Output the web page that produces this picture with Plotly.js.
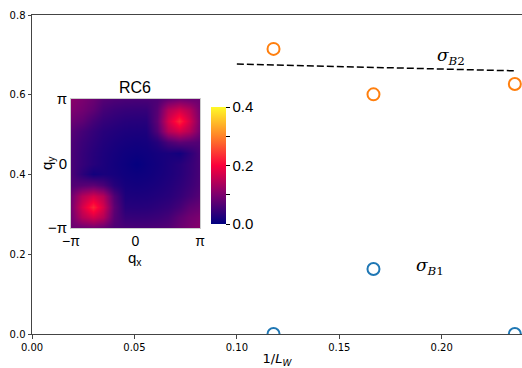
<!DOCTYPE html>
<html><head><meta charset="utf-8">
<script src="https://cdn.plot.ly/plotly-3.0.1.min.js"></script>
<style>html,body{margin:0;padding:0;background:#fff}#plot{width:522px;height:368px}</style>
</head><body><div id="plot"></div>
<script>
// main chart data
const invL = [0.1179, 0.1667, 0.2357];
const sigmaB1 = [0.0, 0.163, 0.0];
const sigmaB2 = [0.715, 0.601, 0.627];
const fitX = [0.10, 0.2357];
const fitY = [0.677, 0.660];
const xTicks = [0, 0.05, 0.10, 0.15, 0.20];
const yTicks = [0, 0.2, 0.4, 0.6, 0.8];
// inset heatmap data (RC6), qy rows from -pi to pi
const qx = [-3.1416,-2.618,-2.0944,-1.5708,-1.0472,-0.5236,0,0.5236,1.0472,1.5708,2.0944,2.618,3.1416];
const qy = [-3.1416,-2.618,-2.0944,-1.5708,-1.0472,-0.5236,0,0.5236,1.0472,1.5708,2.0944,2.618,3.1416];
const rc6 = [
 [0.085,0.085,0.090,0.080,0.062,0.059,0.058,0.059,0.062,0.068,0.085,0.098,0.110],
 [0.090,0.145,0.170,0.145,0.070,0.043,0.042,0.043,0.047,0.055,0.075,0.090,0.100],
 [0.095,0.170,0.230,0.170,0.075,0.031,0.030,0.031,0.036,0.042,0.055,0.075,0.085],
 [0.090,0.145,0.170,0.145,0.065,0.023,0.022,0.023,0.027,0.032,0.042,0.055,0.070],
 [0.065,0.070,0.075,0.060,0.030,0.017,0.015,0.017,0.021,0.027,0.036,0.047,0.062],
 [0.059,0.035,0.015,0.020,0.017,0.012,0.010,0.012,0.017,0.023,0.031,0.043,0.059],
 [0.058,0.042,0.030,0.022,0.015,0.010,0.004,0.010,0.015,0.022,0.030,0.042,0.058],
 [0.059,0.043,0.031,0.023,0.017,0.012,0.010,0.012,0.017,0.020,0.015,0.035,0.059],
 [0.062,0.047,0.036,0.027,0.021,0.017,0.015,0.017,0.030,0.060,0.075,0.070,0.065],
 [0.070,0.055,0.042,0.032,0.027,0.023,0.022,0.023,0.065,0.145,0.170,0.145,0.090],
 [0.085,0.075,0.055,0.042,0.036,0.031,0.030,0.031,0.075,0.170,0.230,0.170,0.095],
 [0.100,0.090,0.075,0.055,0.047,0.043,0.042,0.043,0.070,0.145,0.170,0.145,0.090],
 [0.110,0.098,0.085,0.068,0.062,0.059,0.058,0.059,0.062,0.080,0.090,0.085,0.085]
];
const qTicks = [-3.1416, 0, 3.1416];
const qTickText = ['\u2212\u03c0', '0', '\u03c0'];
const cbTicks = [0, 0.1, 0.2, 0.3, 0.4];
const cbTickText = ['0.0', '', '0.2', '', '0.4'];

const insetFont = {family: 'Liberation Sans, Arial', size: 15, color: '#000'};
const insetTickFont = {family: 'Liberation Sans, Arial', size: 14, color: '#000'};
const traces = [
  {x: invL, y: sigmaB1, type: 'scatter', mode: 'markers', xaxis: 'x', yaxis: 'y',
   marker: {symbol: 'circle-open', size: 12, color: '#1f77b4', line: {width: 2, color: '#1f77b4'}}},
  {x: invL, y: sigmaB2, type: 'scatter', mode: 'markers', xaxis: 'x', yaxis: 'y',
   marker: {symbol: 'circle-open', size: 12, color: '#ff7f0e', line: {width: 2, color: '#ff7f0e'}}},
  {x: fitX, y: fitY, type: 'scatter', mode: 'lines', xaxis: 'x', yaxis: 'y',
   line: {color: '#000', width: 1.5, dash: '7px,3px'}},
  {x: qx, y: qy, z: rc6, type: 'heatmap', xaxis: 'x2', yaxis: 'y2', zsmooth: 'best',
   zmin: 0, zmax: 0.4,
   colorscale: [[0,'rgb(0,0,128)'],[0.25,'rgb(125,0,110)'],[0.5,'rgb(250,0,60)'],[0.75,'rgb(255,130,40)'],[1,'rgb(255,250,40)']],
   colorbar: {x: 0.3653, xanchor: 'left', xpad: 0, ypad: 0, y: 0.528, yanchor: 'middle', len: 117, lenmode: 'pixels',
     thickness: 15, outlinewidth: 0, ticks: 'outside', ticklen: 4, tickcolor: '#000',
     tickvals: cbTicks, ticktext: cbTickText, tickfont: insetFont}}
];

const mainFont = {family: 'DejaVu Sans', size: 10, color: '#000'};
const layout = {
  width: 522, height: 368,
  margin: {l: 32, r: 0, t: 15, b: 34},
  paper_bgcolor: '#fff', plot_bgcolor: '#fff',
  showlegend: false,
  xaxis: {range: [0, 0.2392], tickvals: xTicks, tickformat: '.2f', showgrid: false, zeroline: false,
    showline: true, linecolor: '#444', linewidth: 1, mirror: true, ticks: 'outside', ticklen: 3.5,
    tickcolor: '#444', tickfont: mainFont, domain: [0, 1],
    title: {text: '1/<i>L</i><sub><i>W</i></sub>', font: {family: 'DejaVu Sans', size: 13, color: '#000'}, standoff: 6}},
  yaxis: {range: [0, 0.8], tickvals: yTicks, tickformat: '.1f', showgrid: false, zeroline: false,
    showline: true, linecolor: '#444', linewidth: 1, ticks: 'outside', ticklen: 3.5,
    tickcolor: '#444', tickfont: mainFont, domain: [0, 1]},
  xaxis2: {domain: [0.0796, 0.3429], anchor: 'y2', range: [-3.1416, 3.1416], tickvals: qTicks, ticktext: qTickText,
    showgrid: false, zeroline: false, showline: true, linecolor: '#ccc', linewidth: 1, mirror: true, ticks: '',
    tickfont: insetTickFont},
  yaxis2: {domain: [0.3323, 0.7367], anchor: 'x2', range: [-3.1416, 3.1416], tickvals: qTicks, ticktext: qTickText,
    showgrid: false, zeroline: false, showline: true, linecolor: '#ccc', linewidth: 1, mirror: true, ticks: '',
    tickfont: insetFont},
  annotations: [
    {text: 'RC6', x: 0.2112, y: 0.7367, xref: 'paper', yref: 'paper', xanchor: 'center', yanchor: 'bottom',
     yshift: 1, showarrow: false, font: {family: 'Liberation Sans, Arial', size: 16, color: '#000'}},
    {text: 'q<sub>x</sub>', x: 0.2112, y: 0.2382, xref: 'paper', yref: 'paper', xanchor: 'center', yanchor: 'middle',
     borderpad: 0, showarrow: false, font: insetFont},
    {text: 'q<sub>y</sub>', x: 0.0306, y: 0.5360, xref: 'paper', yref: 'paper', xanchor: 'center', yanchor: 'middle',
     borderpad: 0, textangle: -90, showarrow: false, font: insetFont},
    {text: '<i>\u03c3</i><sub><i>B</i>2</sub>', x: 0.2044, y: 0.696, xref: 'x', yref: 'y', showarrow: false,
     font: {family: 'DejaVu Serif', size: 17, color: '#000'}},
    {text: '<i>\u03c3</i><sub><i>B</i>1</sub>', x: 0.1943, y: 0.169, xref: 'x', yref: 'y', showarrow: false,
     font: {family: 'DejaVu Serif', size: 17, color: '#000'}}
  ]
};
Plotly.newPlot('plot', traces, layout, {displayModeBar: false, staticPlot: true});
</script></body></html>
